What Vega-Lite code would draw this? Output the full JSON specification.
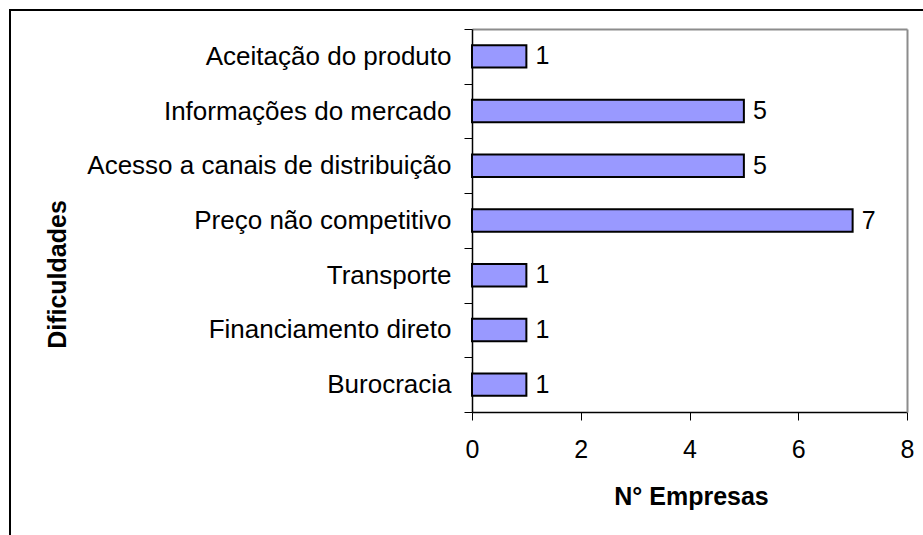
{
  "$schema": "https://vega.github.io/schema/vega-lite/v6.json",
  "width": 913,
  "height": 525,
  "autosize": {"type": "none"},
  "padding": {"left": 10, "top": 10, "right": 0, "bottom": 0},
  "background": "white",
  "data": {
    "values": [
      {"Dificuldade": "Aceitação do produto", "Empresas": 1},
      {"Dificuldade": "Informações do mercado", "Empresas": 5},
      {"Dificuldade": "Acesso a canais de distribuição", "Empresas": 5},
      {"Dificuldade": "Preço não competitivo", "Empresas": 7},
      {"Dificuldade": "Transporte", "Empresas": 1},
      {"Dificuldade": "Financiamento direto", "Empresas": 1},
      {"Dificuldade": "Burocracia", "Empresas": 1}
    ]
  },
  "config": {
    "font": "Liberation Sans",
    "view": {"stroke": "black", "strokeWidth": 2, "strokeDash": [913, 1438, 525]},
    "axis": {"grid": false, "labelFont": "Liberation Sans", "titleFont": "Liberation Sans", "labelColor": "black", "titleColor": "black"}
  },
  "layer": [
    {
      "mark": {"type": "bar", "fill": "#9999FF", "stroke": "black", "strokeWidth": 2, "height": {"band": 0.41}},
      "encoding": {
        "y": {
          "field": "Dificuldade", "type": "nominal", "sort": null,
          "scale": {"range": [19, 402], "paddingInner": 0, "paddingOuter": 0},
          "axis": {
            "orient": "left", "offset": -462, "title": "Dificuldades",
            "titleFontSize": 25, "titleFontWeight": "bold", "titleX": -415, "titleY": 264,
            "titleAngle": -90, "titleAlign": "center", "titleBaseline": "middle",
            "labelFontSize": 26, "labelPadding": 13, "labelLimit": 0, "tickBand": "extent",
            "tickSize": 8, "tickColor": "black", "tickWidth": 1,
            "domainColor": "black", "domainWidth": 1.5
          }
        },
        "x": {
          "field": "Empresas", "type": "quantitative",
          "scale": {"domain": [0, 8], "range": [462, 897], "nice": false},
          "axis": {
            "orient": "bottom", "offset": -123, "values": [0, 2, 4, 6, 8], "title": "N° Empresas",
            "titleFontSize": 25, "titleFontWeight": "bold", "titleX": 681, "titleY": 84,
            "titleAlign": "center", "titleBaseline": "middle",
            "labelFontSize": 25, "labelPadding": 17, "labelFlush": false,
            "tickSize": 8, "tickColor": "black", "tickWidth": 1,
            "domainColor": "black", "domainWidth": 1.5
          }
        }
      }
    },
    {
      "mark": {"type": "text", "align": "left", "baseline": "middle", "dx": 9, "fontSize": 25, "color": "black"},
      "encoding": {
        "y": {
          "field": "Dificuldade", "type": "nominal", "sort": null,
          "axis": {"orient": "right", "offset": -16, "title": null, "labels": false, "ticks": false, "domainColor": "#8c8c8c", "domainWidth": 2}
        },
        "x": {
          "field": "Empresas", "type": "quantitative",
          "axis": {"orient": "top", "offset": -19, "title": null, "labels": false, "ticks": false, "domainColor": "#8c8c8c", "domainWidth": 2}
        },
        "text": {"field": "Empresas", "type": "quantitative"}
      }
    }
  ],
  "resolve": {"axis": {"x": "independent", "y": "independent"}}
}
